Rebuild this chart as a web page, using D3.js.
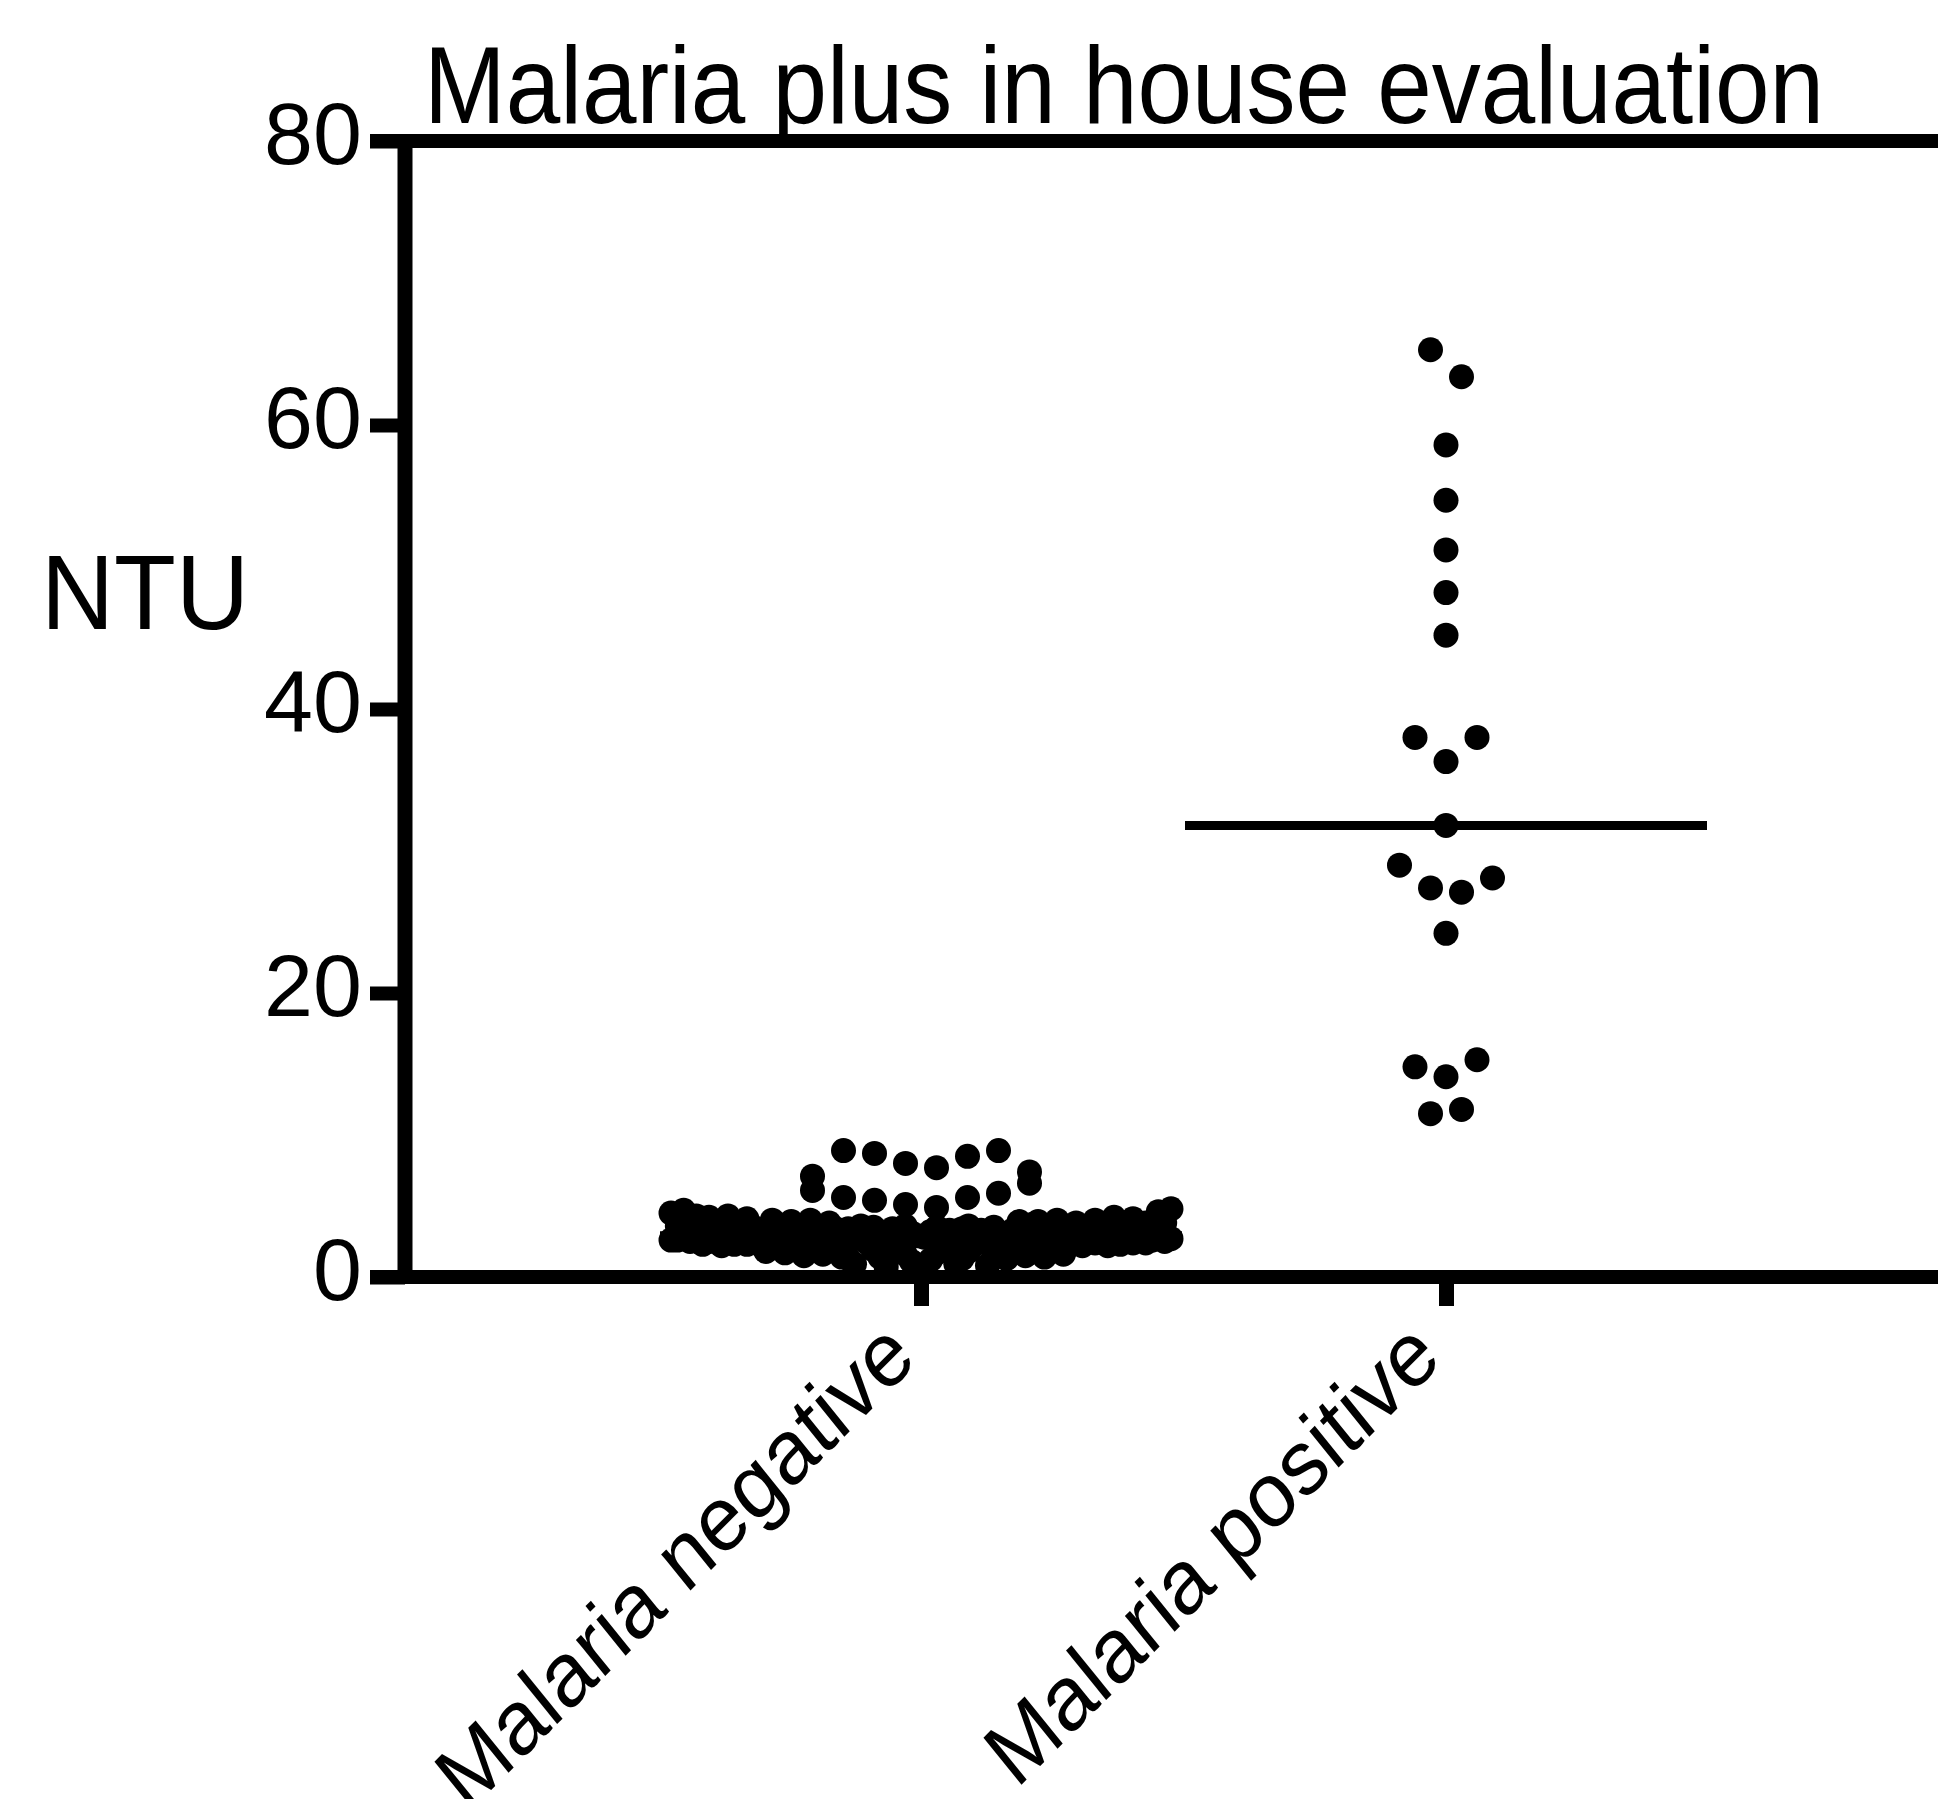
<!DOCTYPE html>
<html>
  <head>
    <meta charset="UTF-8" />
    <title>Malaria plus in house evaluation</title>
    <script src="https://d3js.org/d3.v7.min.js"></script>
    <style>
      body {
        margin: 0;
        background: #fff;
      }
      text {
        font-family: "Liberation Sans", Arial, sans-serif;
        fill: #000;
      }
    </style>
  </head>
  <body>
    <svg width="1938" height="1799"></svg>
    <script>
      // groups on the x axis
      var categories = ["Malaria negative", "Malaria positive"];

      // NTU values, malaria negative, in sample order
      var negativeValues = [
        0.7, 0.8, 1.2, 1.1, 1.7, 1.6, 2.2, 2.1, 2.6, 2.5,
        0.9, 0.7, 1.3, 1.4, 1.8, 1.9, 2.3, 2.4, 2.6, 2.7,
        0.8, 0.9, 1.4, 1.3, 2.0,
        1.4, 1.3, 1.9, 2.0, 2.5, 2.4, 1.6, 1.5, 2.2, 2.3, 2.7, 2.6,
        1.5, 1.4, 2.0, 1.9, 2.6, 2.5, 1.7, 1.6, 2.3, 2.2, 2.7, 2.6, 1.8,
        2.2, 2.3, 2.6, 2.7, 2.4, 2.3, 2.7, 2.6, 2.2, 2.3, 2.5,
        2.6, 2.3, 2.2, 2.7, 2.7, 2.4, 2.5, 2.6, 2.3, 2.4, 2.7,
        2.6, 2.5, 2.7, 2.7, 2.5, 2.6, 2.7, 2.6,
        2.8, 2.9, 3.2, 3.1, 3.5, 3.6, 3.0, 2.9, 3.3, 3.4,
        2.8, 3.0, 3.4, 3.2, 3.6, 3.5, 2.9, 3.1, 3.3, 3.6,
        3.0, 2.8, 3.5, 3.4, 3.1,
        2.9, 3.0, 3.4, 3.3, 3.8, 3.9, 3.1, 3.2, 3.6, 3.7, 4.0, 3.9,
        2.8, 2.9, 3.5, 3.4, 3.9, 4.0, 3.2, 3.1, 3.7, 3.6, 4.0, 3.8, 3.0,
        2.9, 2.8, 3.4, 3.5, 4.0, 4.1, 3.1, 3.0, 3.7, 3.6, 4.2,
        4.3, 2.9, 3.0, 3.5, 3.4, 4.1, 4.2, 3.2, 3.3, 3.8, 4.3,
        3.0, 3.2, 4.6, 4.7, 3.8, 3.6, 4.8, 4.5,
        4.9, 5.1, 5.6, 5.4, 5.9, 5.6, 6.6, 6.1,
        7.7, 8.0, 8.5, 8.7, 8.9, 8.9, 7.4, 7.1,
      ];

      // NTU values, malaria positive
      var positiveValues = [
        11.8, 11.5, 14.1, 14.8, 15.3, 24.2, 27.1, 27.4, 28.1, 29.0, 31.8,
        36.3, 38.0, 38.0, 45.2, 48.2, 51.2, 54.7, 58.6, 63.4, 65.3,
      ];

      var yTicks = [0, 20, 40, 60, 80];

      var svg = d3.select("svg");

      var y = d3.scaleLinear().domain([0, 80]).range([1277, 141]);
      var x = d3.scalePoint().domain(categories).range([921, 1446]);

      // column scatter: bin values into rows, spread each row from the centre out
      function scatterRows(values, bin, step, maxWidth) {
        var pts = values.map(function (v, i) {
          return { v: v, i: i, dx: 0 };
        });
        var sorted = pts.slice().sort(function (a, b) {
          return a.v - b.v || a.i - b.i;
        });
        var rows = [];
        var cur = null;
        sorted.forEach(function (p) {
          if (!cur || p.v - cur.start > bin + 1e-6) {
            cur = { start: p.v, pts: [] };
            rows.push(cur);
          }
          cur.pts.push(p);
        });
        rows.forEach(function (r) {
          r.pts.sort(function (a, b) {
            return a.i - b.i;
          });
          var n = r.pts.length;
          var s = n > 1 ? Math.min(step, maxWidth / (n - 1)) : 0;
          r.pts.forEach(function (p, k) {
            var slot;
            if (n % 2) {
              slot = k === 0 ? 0 : k % 2 ? -Math.ceil(k / 2) : k / 2;
            } else {
              var m = Math.floor(k / 2) + 0.5;
              slot = k % 2 === 0 ? m : -m;
            }
            p.dx = slot * s;
          });
        });
        return pts;
      }

      var groups = [
        { key: categories[0], values: negativeValues },
        { key: categories[1], values: positiveValues },
      ];

      var g = svg.append("g");

      // median lines
      g.selectAll(".median")
        .data(groups)
        .enter()
        .append("line")
        .attr("class", "median")
        .attr("x1", function (d) {
          return x(d.key) - 261;
        })
        .attr("x2", function (d) {
          return x(d.key) + 261;
        })
        .attr("y1", function (d) {
          return y(d3.median(d.values));
        })
        .attr("y2", function (d) {
          return y(d3.median(d.values));
        })
        .attr("stroke", "#000")
        .attr("stroke-width", 9);

      // points
      groups.forEach(function (grp) {
        var pts = scatterRows(grp.values, 2.0, 31, 500);
        g.append("g")
          .selectAll("circle")
          .data(pts)
          .enter()
          .append("circle")
          .attr("cx", function (d) {
            return x(grp.key) + d.dx;
          })
          .attr("cy", function (d) {
            return y(d.v);
          })
          .attr("r", 12.5)
          .attr("fill", "#000");
      });

      // frame lines: top, bottom, left
      var x0 = 370,
        x1 = 1938;
      svg
        .append("line")
        .attr("x1", x0)
        .attr("x2", x1)
        .attr("y1", y(80))
        .attr("y2", y(80))
        .attr("stroke", "#000")
        .attr("stroke-width", 14);
      svg
        .append("line")
        .attr("x1", x0)
        .attr("x2", x1)
        .attr("y1", y(0))
        .attr("y2", y(0))
        .attr("stroke", "#000")
        .attr("stroke-width", 14);
      svg
        .append("line")
        .attr("x1", 405)
        .attr("x2", 405)
        .attr("y1", y(80))
        .attr("y2", y(0))
        .attr("stroke", "#000")
        .attr("stroke-width", 15);

      // y axis
      var yAxis = svg
        .append("g")
        .attr("transform", "translate(405,0)")
        .call(d3.axisLeft(y).tickValues(yTicks).tickSize(35).tickPadding(8));
      yAxis.select(".domain").remove();
      yAxis.selectAll(".tick line").attr("stroke", "#000").attr("stroke-width", 14);
      yAxis
        .selectAll(".tick text")
        .attr("font-size", 88)
        .attr("font-family", "Liberation Sans, Arial, sans-serif")
        .attr("dy", "0.25em");

      // x axis
      var xAxis = svg
        .append("g")
        .attr("transform", "translate(0," + y(0) + ")")
        .call(d3.axisBottom(x).tickSize(29).tickFormat(""));
      xAxis.select(".domain").remove();
      xAxis.selectAll(".tick line").attr("stroke", "#000").attr("stroke-width", 15);

      svg
        .append("g")
        .selectAll("text")
        .data(categories)
        .enter()
        .append("text")
        .attr("text-anchor", "end")
        .attr("font-size", 92)
        .attr("transform", function (d) {
          return (
            "translate(" + (x(d) - 2) + ",1362) scale(0.9,1) rotate(-42)"
          );
        })
        .text(function (d) {
          return d;
        });

      // titles
      svg
        .append("text")
        .attr("x", 424)
        .attr("y", 123)
        .attr("font-size", 109)
        .attr("textLength", 1400)
        .attr("lengthAdjust", "spacingAndGlyphs")
        .text("Malaria plus in house evaluation");

      svg
        .append("text")
        .attr("x", 41)
        .attr("y", 629)
        .attr("font-size", 106)
        .attr("textLength", 208)
        .attr("lengthAdjust", "spacingAndGlyphs")
        .text("NTU");
    </script>
  </body>
</html>
